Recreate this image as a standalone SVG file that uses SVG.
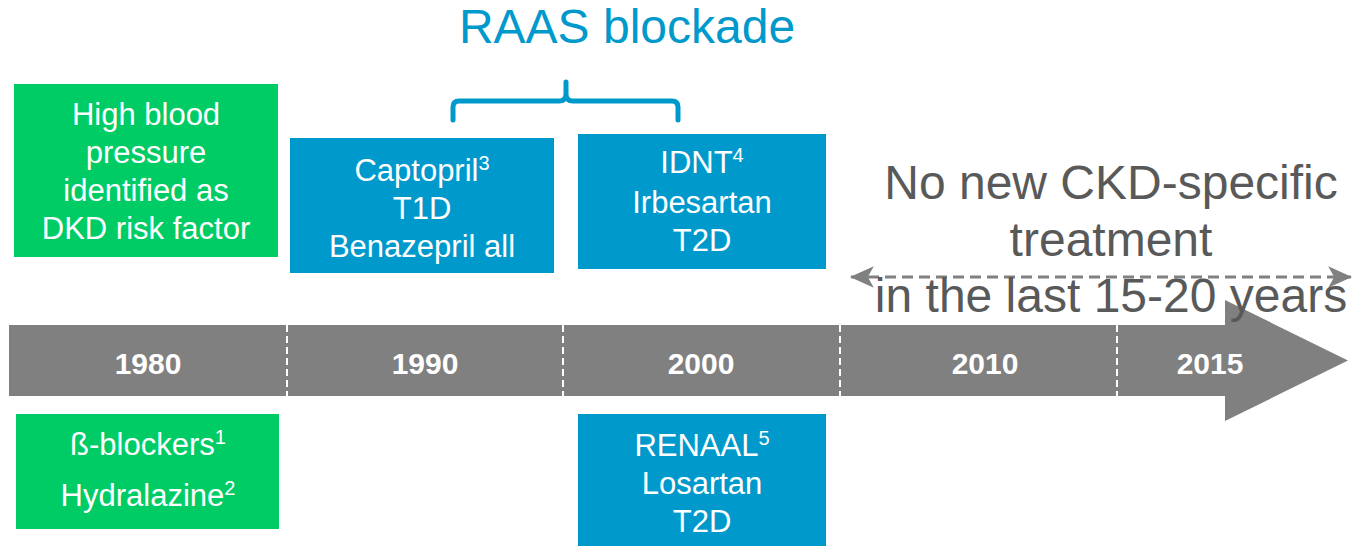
<svg xmlns="http://www.w3.org/2000/svg" width="1352" height="546" viewBox="0 0 1352 546">
<style>
.green{fill:#00CC66}
.blue{fill:#0099CC}
.bt{font-family:"Liberation Sans",Arial,sans-serif;font-size:31px;fill:#FFFFFF;text-anchor:middle}
.sup{font-size:20px}
.yr{font-family:"Liberation Sans",Arial,sans-serif;font-size:30px;font-weight:bold;fill:#FFFFFF;text-anchor:middle}
.big{font-family:"Liberation Sans",Arial,sans-serif;font-size:48px;fill:#595959;text-anchor:middle}
.div{stroke:#FFFFFF;stroke-width:2;stroke-dasharray:7 4}
</style>
<defs>
<marker id="ah" viewBox="0 0 10 10" refX="9.5" refY="5" markerWidth="24" markerHeight="24" markerUnits="userSpaceOnUse" orient="auto-start-reverse">
<path d="M0,0.5 L10,5 L0,9.5 L2.5,5 Z" fill="#808080"/>
</marker>
</defs>

<g id="timeline">
<rect x="9" y="325" width="1217" height="71" fill="#808080"/>
<polygon points="1225,300 1348,360.5 1225,421" fill="#808080"/>
<line class="div" x1="287" y1="325" x2="287" y2="396"/>
<line class="div" x1="563" y1="325" x2="563" y2="396"/>
<line class="div" x1="840" y1="325" x2="840" y2="396"/>
<line class="div" x1="1117" y1="325" x2="1117" y2="396"/>
<text class="yr" x="148" y="374">1980</text>
<text class="yr" x="425" y="374">1990</text>
<text class="yr" x="701" y="374">2000</text>
<text class="yr" x="985" y="374">2010</text>
<text class="yr" x="1210" y="374">2015</text>
</g>

<g id="connectors">
<path d="M453,120 V107 Q453,101 459,101 H559 Q566,101 566,94 V82 M566,94 Q566,101 573,101 H672 Q678,101 678,107 V120" fill="none" stroke="#0099CC" stroke-width="5" stroke-linecap="round" stroke-linejoin="round"/>
<line x1="851" y1="277" x2="1351" y2="277" stroke="#808080" stroke-width="3" stroke-dasharray="11 6" marker-start="url(#ah)" marker-end="url(#ah)"/>
</g>

<g id="raas-title">
<text x="627" y="43" font-family="Liberation Sans, Arial, sans-serif" font-size="48" fill="#0099CC" text-anchor="middle">RAAS blockade</text>
</g>

<g id="node-hbp">
<rect class="green" x="14" y="84" width="264" height="173"/>
<text class="bt" x="146" y="125">High blood</text>
<text class="bt" x="146" y="163">pressure</text>
<text class="bt" x="146" y="201">identified as</text>
<text class="bt" x="146" y="239">DKD risk factor</text>
</g>

<g id="node-captopril">
<rect class="blue" x="290" y="138" width="264" height="135"/>
<text class="bt" x="422" y="181">Captopril<tspan class="sup" dy="-11">3</tspan></text>
<text class="bt" x="422" y="219">T1D</text>
<text class="bt" x="422" y="257">Benazepril all</text>
</g>

<g id="node-idnt">
<rect class="blue" x="578" y="134" width="248" height="135"/>
<text class="bt" x="702" y="173">IDNT<tspan class="sup" dy="-11">4</tspan></text>
<text class="bt" x="702" y="213">Irbesartan</text>
<text class="bt" x="702" y="251">T2D</text>
</g>

<g id="node-renaal">
<rect class="blue" x="578" y="414" width="248" height="132"/>
<text class="bt" x="702" y="456">RENAAL<tspan class="sup" dy="-11">5</tspan></text>
<text class="bt" x="702" y="494">Losartan</text>
<text class="bt" x="702" y="532">T2D</text>
</g>

<g id="node-blockers">
<rect class="green" x="16" y="414" width="263" height="115"/>
<text class="bt" x="148" y="455">ß-blockers<tspan class="sup" dy="-11">1</tspan></text>
<text class="bt" x="148" y="506">Hydralazine<tspan class="sup" dy="-11">2</tspan></text>
</g>

<g id="note-ckd">
<text class="big" x="1111" y="199">No new CKD-specific</text>
<text class="big" x="1111" y="256">treatment</text>
<text class="big" x="1111" y="312">in the last 15-20 years</text>
</g>
</svg>
